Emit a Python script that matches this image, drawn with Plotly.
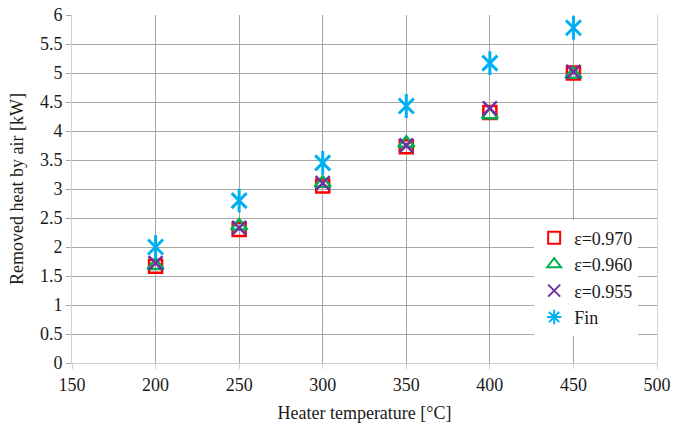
import plotly.graph_objects as go

temps = [200, 250, 300, 350, 400, 450]
eps_970 = [1.67, 2.30, 3.05, 3.73, 4.32, 5.00]
eps_960 = [1.68, 2.36, 3.10, 3.79, 4.28, 4.98]
eps_955 = [1.72, 2.33, 3.10, 3.75, 4.39, 5.02]
fin = [2.00, 2.80, 3.45, 4.43, 5.17, 5.78]

x_ticks = [150, 200, 250, 300, 350, 400, 450, 500]
y_ticks = [0, 0.5, 1, 1.5, 2, 2.5, 3, 3.5, 4, 4.5, 5, 5.5, 6]

font = "Liberation Serif"
fs = 18

fig = go.Figure()
fig.add_trace(go.Scatter(x=temps, y=eps_970, mode="markers", name="ε=0.970", legendgroup="a",
                         marker=dict(symbol="square-open", size=13, color="#ff0000", line=dict(width=2.5, color="#ff0000"))))
fig.add_trace(go.Scatter(x=temps, y=eps_960, mode="markers", name="ε=0.960", legendgroup="b",
                         marker=dict(symbol="triangle-up-open", size=14, color="#00b050", line=dict(width=2.5, color="#00b050"))))
fig.add_trace(go.Scatter(x=temps, y=eps_955, mode="markers", name="ε=0.955", legendgroup="c",
                         marker=dict(symbol="x-thin-open", size=14, color="#7030a0", line=dict(width=2.5, color="#7030a0"))))
# Fin: Excel star marker = X with vertical bar (6 spokes)
fig.add_trace(go.Scatter(x=temps, y=fin, mode="markers", name="Fin", legendgroup="d", showlegend=False,
                         marker=dict(symbol="x-thin-open", size=15, color="#00b0f0", line=dict(width=3, color="#00b0f0"))))
fig.add_trace(go.Scatter(x=temps, y=fin, mode="markers", name="Fin", legendgroup="d", showlegend=False,
                         marker=dict(symbol="line-ns-open", size=17, color="#00b0f0", line=dict(width=3, color="#00b0f0"))))
fig.add_trace(go.Scatter(x=[None], y=[None], mode="markers", name="Fin", legendgroup="d", showlegend=True,
                         marker=dict(symbol="asterisk-open", size=14, color="#00b0f0", line=dict(width=3, color="#00b0f0"))))

fig.update_layout(
    width=673, height=423,
    margin=dict(l=72, r=16, t=15, b=60, autoexpand=False),
    paper_bgcolor="white", plot_bgcolor="white",
    font=dict(family=font, size=fs, color="#1a1a1a"),
    showlegend=True,
    legend=dict(x=0.79, y=0.412, xanchor="left", yanchor="top", bgcolor="rgba(255,255,255,1)",
                font=dict(family=font, size=fs), itemwidth=30, tracegroupgap=0, itemsizing="constant"),
)
fig.update_xaxes(range=[150, 500], tickvals=x_ticks, ticktext=[str(v) for v in x_ticks],
                 showgrid=True, gridcolor="#a6a6a6", gridwidth=1, zeroline=False,
                 showline=True, linecolor="#d0d0d0", linewidth=1, mirror=False,
                 ticks="outside", ticklen=5, tickcolor="#d0d0d0", automargin=False,
                 title=dict(text="Heater temperature [°C]", font=dict(family=font, size=fs), standoff=20),
                 tickfont=dict(family=font, size=fs))
fig.update_yaxes(range=[0, 6], tickvals=y_ticks, ticktext=[f"{v:g}" for v in y_ticks],
                 showgrid=True, gridcolor="#a6a6a6", gridwidth=1, zeroline=False,
                 showline=True, linecolor="#d0d0d0", linewidth=1, mirror=True,
                 ticks="outside", ticklen=5, tickcolor="#a6a6a6", automargin=False,
                 title=dict(text="Removed heat by air [kW]", font=dict(family=font, size=fs), standoff=11),
                 tickfont=dict(family=font, size=fs))

# remove the default page margin so the 673x423 figure fills the window exactly
fig.write_html("out.html", config={"displayModeBar": False},
               post_script="document.body.style.margin='0';document.body.style.overflow='hidden';")
